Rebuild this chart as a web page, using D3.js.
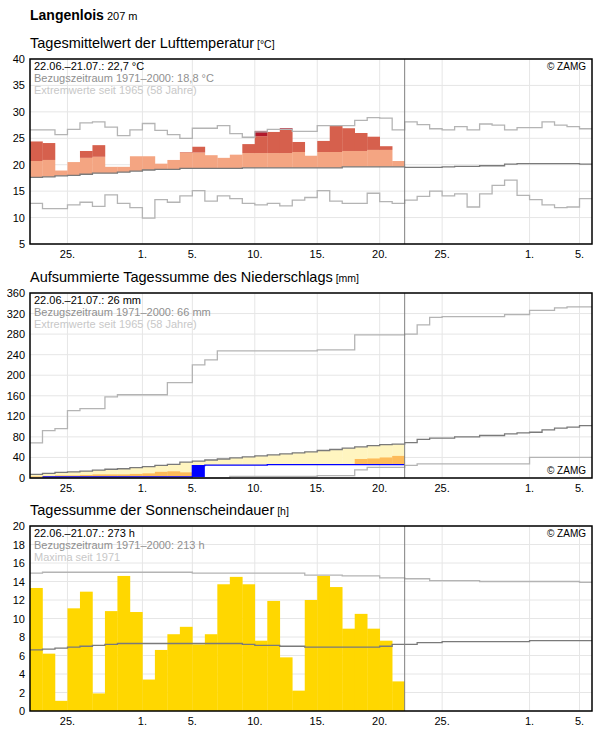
<!DOCTYPE html>
<html>
<head>
<meta charset="utf-8">
<script src="https://cdn.jsdelivr.net/npm/d3@7"></script>
<style>
  body { margin: 0; background: #fff; font-family: "Liberation Sans", Arial, sans-serif; }
</style>
</head>
<body>
<svg id="chart"></svg>
<script>
const width = 596, height = 729
const nDays = 45, nObs = 30

// x ticks: day index (from 22.06.) and label
const tickDays = [3, 9, 13, 18, 23, 28, 33, 40, 44]
const tickLabels = ["25.", "1.", "5.", "10.", "15.", "20.", "25.", "1.", "5."]

/// Temperature (°C) ///
const tempObs = [24.4, 24.1, 18.9, 20.5, 22.6, 23.7, 19.6, 19.6, 21.6, 21.6, 20.2, 20.9, 22.4, 23.4, 21.8,
  21.3, 21.9, 23.9, 26.4, 26.2, 26.9, 24.3, 21.7, 24.5, 27.4, 26.9, 26.0, 25.3, 23.5, 20.7]
const tempWarm = [20.7, 20.9, 21.0, 21.1, 21.3, 21.5, 21.6, 21.7, 21.8, 21.9, 22.0, 22.1, 22.3, 22.3, 22.3,
  22.3, 22.3, 22.2, 22.2, 22.2, 22.2, 22.4, 22.4, 22.4, 22.4, 22.6, 22.6, 22.8, 22.8, 22.8]
const tempHot = [25.0, 25.0, 25.1, 25.1, 25.2, 25.2, 25.3, 25.3, 25.3, 25.4, 25.4, 25.4, 25.5, 25.5, 25.5,
  25.5, 25.5, 25.5, 25.4, 26.3, 26.6, 26.5, 26.5, 26.5, 27.5, 27.5, 27.5, 27.5, 27.5, 27.5]
const tempMean = [17.6, 17.7, 17.9, 18.0, 18.2, 18.4, 18.4, 18.6, 18.8, 19.0, 19.1, 19.1, 19.3, 19.3, 19.3,
  19.3, 19.3, 19.4, 19.4, 19.4, 19.4, 19.4, 19.4, 19.4, 19.4, 19.6, 19.6, 19.6, 19.6, 19.6,
  19.5, 19.5, 19.5, 19.6, 19.7, 19.7, 19.8, 19.8, 20.1, 20.2, 20.2, 20.2, 20.2, 20.2, 20.1]
const tempMax = [26.6, 26.6, 25.7, 26.7, 27.9, 28.1, 27.1, 25.5, 26.6, 27.8, 26.5, 25.7, 25.0, 26.9, 26.9,
  27.4, 25.9, 25.2, 26.2, 26.7, 26.7, 26.3, 26.3, 27.4, 27.4, 27.4, 28.4, 28.9, 28.8, 26.6,
  28.1, 27.6, 26.8, 26.6, 27.2, 26.6, 27.7, 27.5, 26.6, 27.0, 27.0, 28.1, 27.5, 27.2, 26.8]
const tempMin = [12.7, 11.7, 11.7, 12.4, 12.9, 12.1, 14.3, 12.7, 11.9, 9.9, 13.4, 12.9, 14.1, 15.1, 13.1,
  14.1, 13.6, 12.7, 12.4, 12.7, 12.2, 13.3, 13.8, 15.1, 13.1, 12.7, 12.7, 14.6, 13.0, 12.7,
  13.3, 14.0, 15.0, 14.1, 14.5, 12.0, 14.5, 16.1, 17.1, 14.2, 13.4, 12.4, 11.9, 12.0, 13.6]

/// Precipitation, cumulative (mm) ///
const precObs = [0, 2, 2, 2, 2, 2, 2, 2, 2, 2, 2, 2, 2, 24, 25, 25, 25, 25, 25, 26, 26, 26, 26, 26, 26, 26, 26, 26, 26, 26]
const precLow = [3, 4, 5, 5, 6, 7, 7, 7, 8, 9, 12, 13, 11, 12, 14, 16, 18, 20, 21, 21, 22, 22, 23, 23, 24, 24, 37, 38, 40, 43]
const precMean = [7, 9, 11, 12, 13.5, 15.5, 17, 18, 20, 22, 24.5, 26.5, 31, 33, 35, 37, 39, 41, 43, 45, 47, 49, 51, 53.5, 55.5,
  58, 60.5, 63, 65, 66, 69, 75, 77.5, 77.5, 80, 80, 82.7, 82.7, 86, 88, 89, 93.5, 97, 99, 102]
const precMax = [68.5, 92, 96, 131, 135, 135, 158, 162, 162, 162, 162, 185.5, 185.5, 220, 230, 247.5, 247.5, 247.5, 247.5,
  247.5, 247.5, 247.5, 247.5, 249.5, 249.5, 249.5, 278.5, 278.5, 278.5, 278.5,
  280, 298, 312.5, 314, 314, 314, 314, 314, 318, 318, 326, 326, 331, 333, 333]
const precMin = [0, 0, 0, 0, 0, 0, 0, 0, 0, 0, 0, 0, 0, 0, 0, 0, 3, 3, 3, 3, 3, 3, 3, 4.5, 4.5, 4.5, 16, 20.5, 20.5, 20.5,
  24.5, 27.5, 27.5, 27.5, 27.5, 27.5, 27.5, 27.5, 27.5, 27.5, 40, 40, 40, 40, 40]

/// Sunshine (h) ///
const sunObs = [13.3, 6.2, 1.1, 11.1, 12.9, 1.9, 10.8, 14.6, 10.7, 3.4, 6.6, 8.3, 9.1, 7.2, 8.3,
  13.7, 14.5, 13.7, 7.6, 11.9, 5.8, 2.2, 12.0, 14.6, 13.4, 8.9, 10.5, 8.9, 7.6, 3.2]
const sunMean = [6.6, 6.7, 6.8, 6.9, 7.0, 7.1, 7.2, 7.3, 7.3, 7.3, 7.3, 7.3, 7.3, 7.3, 7.3,
  7.3, 7.3, 7.2, 7.1, 7.1, 7.0, 7.0, 6.9, 6.9, 6.9, 6.9, 6.9, 6.9, 7.0, 7.2,
  7.2, 7.4, 7.4, 7.5, 7.5, 7.5, 7.5, 7.5, 7.5, 7.5, 7.6, 7.6, 7.6, 7.6, 7.6]
const sunMax = [14.9, 15.0, 15.0, 15.0, 15.0, 15.0, 15.0, 15.0, 15.0, 15.0, 15.0, 15.0, 15.0, 14.9, 14.9,
  14.9, 14.9, 14.9, 14.9, 14.9, 14.9, 14.9, 14.7, 14.7, 14.7, 14.6, 14.6, 14.6, 14.4, 14.4,
  14.3, 14.3, 14.1, 14.1, 14.1, 14.1, 14.0, 14.0, 14.0, 14.0, 14.0, 14.0, 14.0, 14.0, 13.9]

const svg = d3.select("#chart").attr("width", width).attr("height", height)

const x = d3.scaleLinear().domain([0, nDays]).range([30, 592])

svg.append("text").attr("x", 30).attr("y", 20)
  .style("font-size", "14px").style("font-weight", "bold").text("Langenlois")
  .append("tspan").style("font-size", "11px").style("font-weight", "normal").text(" 207 m")

function panel(opts) {
  const { top, bottom, domain, ticks, title, unit, lines, zamgBottom } = opts
  const y = d3.scaleLinear().domain(domain).range([bottom, top])
  const g = svg.append("g")

  g.append("text").attr("x", 30).attr("y", top - 11).style("font-size", "14.5px").text(title)
    .append("tspan").style("font-size", "10.5px").text(" [" + unit + "]")

  // grid
  g.selectAll(".hg").data(ticks).join("line")
    .attr("x1", x(0)).attr("x2", x(nDays)).attr("y1", d => y(d)).attr("y2", d => y(d))
    .attr("stroke", "#e6e6e6")
  g.selectAll(".vg").data(tickDays).join("line")
    .attr("x1", d => x(d)).attr("x2", d => x(d)).attr("y1", top).attr("y2", bottom)
    .attr("stroke", "#e6e6e6")

  g.selectAll(".yl").data(ticks).join("text")
    .attr("x", 25).attr("y", d => y(d) + 4).attr("text-anchor", "end")
    .style("font-size", "11px").text(d => d)
  g.selectAll(".xl").data(tickDays).join("text")
    .attr("x", d => x(d)).attr("y", bottom + 14).attr("text-anchor", "middle")
    .style("font-size", "11px").text((d, i) => tickLabels[i])

  const body = g.append("g")

  g.selectAll(".info").data(lines).join("text")
    .attr("x", 34).attr("y", (d, i) => top + 11 + i * 12)
    .attr("fill", (d, i) => ["#000", "#909090", "#c8c8c8"][i])
    .style("font-size", "11px").text(d => d)

  g.append("text").attr("x", 586).attr("y", zamgBottom ? bottom - 4 : top + 11)
    .attr("text-anchor", "end").style("font-size", "10px").text("© ZAMG")

  g.append("line").attr("x1", x(nObs)).attr("x2", x(nObs)).attr("y1", top).attr("y2", bottom)
    .attr("stroke", "#808080")
  g.append("rect").attr("x", x(0)).attr("y", top).attr("width", x(nDays) - x(0)).attr("height", bottom - top)
    .attr("fill", "none").attr("stroke", "#000").attr("stroke-width", 1.5)

  return { y, body }
}

function stepLine(g, y, data, colour) {
  const pts = data.map((v, i) => [i, v]).concat([[data.length, data[data.length - 1]]])
  g.append("path").datum(pts)
    .attr("d", d3.line().x(d => x(d[0])).y(d => y(d[1])).curve(d3.curveStepAfter))
    .attr("fill", "none").attr("stroke", colour).attr("stroke-width", 1.3)
}

/// Panel 1: temperature ///
{
  const { y, body } = panel({
    top: 59, bottom: 244, domain: [5, 40], ticks: d3.range(5, 41, 5),
    title: "Tagesmittelwert der Lufttemperatur", unit: "°C",
    lines: ["22.06.–21.07.: 22,7 °C", "Bezugszeitraum 1971–2000: 18,8 °C", "Extremwerte seit 1965 (58 Jahre)"]
  })
  const segs = []
  tempObs.forEach((v, i) => {
    segs.push({ i, lo: tempMean[i], hi: Math.min(v, tempWarm[i]), c: "#f4a582" })
    if (v > tempWarm[i]) segs.push({ i, lo: tempWarm[i], hi: Math.min(v, tempHot[i]), c: "#d6604d" })
    if (v > tempHot[i]) segs.push({ i, lo: tempHot[i], hi: v, c: "#b2182b" })
  })
  body.selectAll("rect").data(segs).join("rect")
    .attr("x", d => x(d.i)).attr("width", x(1) - x(0) + 0.3)
    .attr("y", d => y(d.hi)).attr("height", d => Math.max(0, y(d.lo) - y(d.hi)))
    .attr("fill", d => d.c)
  stepLine(body, y, tempMax, "#b4b4b4")
  stepLine(body, y, tempMin, "#b4b4b4")
  stepLine(body, y, tempMean, "#7a7a7a")
}

/// Panel 2: precipitation ///
{
  const { y, body } = panel({
    top: 293, bottom: 478, domain: [0, 360], ticks: d3.range(0, 361, 40),
    title: "Aufsummierte Tagessumme des Niederschlags", unit: "mm", zamgBottom: true,
    lines: ["22.06.–21.07.: 26 mm", "Bezugszeitraum 1971–2000: 66 mm", "Extremwerte seit 1965 (58 Jahre)"]
  })
  const w = x(1) - x(0) + 0.3
  body.selectAll(".pm").data(precObs).join("rect")
    .attr("x", (d, i) => x(i)).attr("width", w)
    .attr("y", (d, i) => y(precMean[i])).attr("height", (d, i) => Math.max(0, y(d) - y(precMean[i])))
    .attr("fill", "#fff5c0")
  body.selectAll(".pl").data(precObs).join("rect")
    .attr("x", (d, i) => x(i)).attr("width", w)
    .attr("y", (d, i) => y(precLow[i])).attr("height", (d, i) => Math.max(0, y(d) - y(precLow[i])))
    .attr("fill", "#fdbb5a")
  // daily rain as bar
  body.selectAll(".pb").data(precObs.map((v, i) => ({ i, lo: i ? precObs[i - 1] : 0, hi: v })).filter(d => d.hi - d.lo > 5))
    .join("rect")
    .attr("x", d => x(d.i)).attr("width", x(1) - x(0))
    .attr("y", d => y(d.hi)).attr("height", d => y(d.lo) - y(d.hi))
    .attr("fill", "#0000ff")
  stepLine(body, y, precMax, "#b4b4b4")
  stepLine(body, y, precMin, "#b4b4b4")
  stepLine(body, y, precMean, "#7a7a7a")
  const obsPts = precObs.map((v, i) => [i, v]).slice(1).concat([[nObs, precObs[nObs - 1]]])
  body.append("path").datum(obsPts)
    .attr("d", d3.line().x(d => x(d[0])).y(d => y(d[1])).curve(d3.curveStepAfter))
    .attr("fill", "none").attr("stroke", "#0000ff").attr("stroke-width", 1.3)
}

/// Panel 3: sunshine ///
{
  const { y, body } = panel({
    top: 526, bottom: 711, domain: [0, 20], ticks: d3.range(0, 21, 2),
    title: "Tagessumme der Sonnenscheindauer", unit: "h",
    lines: ["22.06.–21.07.: 273 h", "Bezugszeitraum 1971–2000: 213 h", "Maxima seit 1971"]
  })
  body.selectAll("rect").data(sunObs).join("rect")
    .attr("x", (d, i) => x(i)).attr("width", x(1) - x(0) + 0.3)
    .attr("y", d => y(d)).attr("height", d => y(0) - y(d))
    .attr("fill", "#ffd700")
  stepLine(body, y, sunMax, "#b4b4b4")
  stepLine(body, y, sunMean, "#7a7a7a")
}
</script>
</body>
</html>
